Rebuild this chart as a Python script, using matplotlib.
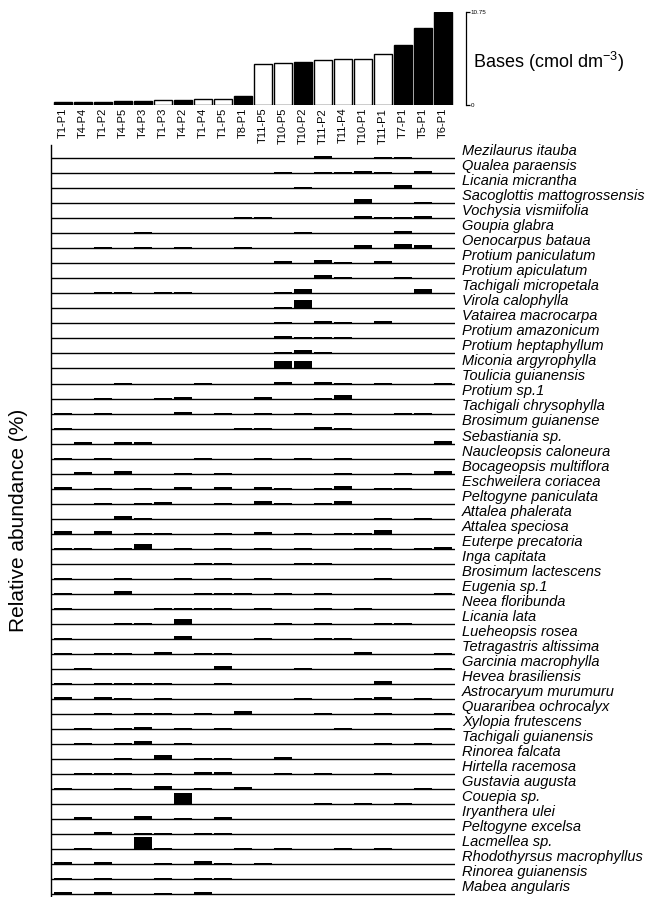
import matplotlib.pyplot as plt
import numpy as np

plt.rcParams['font.family'] = ['Liberation Sans', 'DejaVu Sans']
plt.rcParams['mathtext.fontset'] = 'custom'
plt.rcParams['mathtext.rm'] = 'Liberation Sans'

# plots ordered by total bases
plots = ['T1-P1', 'T4-P4', 'T1-P2', 'T4-P5', 'T4-P3', 'T1-P3', 'T4-P2', 'T1-P4',
         'T1-P5', 'T8-P1', 'T11-P5', 'T10-P5', 'T10-P2', 'T11-P2', 'T11-P4',
         'T10-P1', 'T11-P1', 'T7-P1', 'T5-P1', 'T6-P1']
bases = [0.3, 0.4, 0.4, 0.45, 0.5, 0.55, 0.6, 0.65, 0.75, 1.05, 4.7, 4.8, 5.0,
         5.2, 5.35, 5.35, 5.85, 6.9, 8.9, 10.75]
black_bar = [1, 1, 1, 1, 1, 0, 1, 0, 0, 1, 0, 0, 1, 0, 0, 0, 0, 1, 1, 1]

species = [
    'Mezilaurus itauba', 'Qualea paraensis', 'Licania micrantha',
    'Sacoglottis mattogrossensis', 'Vochysia vismiifolia', 'Goupia glabra',
    'Oenocarpus bataua', 'Protium paniculatum', 'Protium apiculatum',
    'Tachigali micropetala', 'Virola calophylla', 'Vatairea macrocarpa',
    'Protium amazonicum', 'Protium heptaphyllum', 'Miconia argyrophylla',
    'Toulicia guianensis', 'Protium sp.1', 'Tachigali chrysophylla',
    'Brosimum guianense', 'Sebastiania sp.', 'Naucleopsis caloneura',
    'Bocageopsis multiflora', 'Eschweilera coriacea', 'Peltogyne paniculata',
    'Attalea phalerata', 'Attalea speciosa', 'Euterpe precatoria',
    'Inga capitata', 'Brosimum lactescens', 'Eugenia sp.1', 'Neea floribunda',
    'Licania lata', 'Lueheopsis rosea', 'Tetragastris altissima',
    'Garcinia macrophylla', 'Hevea brasiliensis', 'Astrocaryum murumuru',
    'Quararibea ochrocalyx', 'Xylopia frutescens', 'Tachigali guianensis',
    'Rinorea falcata', 'Hirtella racemosa', 'Gustavia augusta', 'Couepia sp.',
    'Iryanthera ulei', 'Peltogyne excelsa', 'Lacmellea sp.',
    'Rhodothyrsus macrophyllus', 'Rinorea guianensis', 'Mabea angularis']

# relative abundance (%) per species (rows) and plot (columns)
abundance = [
    [0, 0, 0, 0, 0, 0, 0, 0, 0, 0, 0, 0, 0, 2, 0, 0, 1.5, 1.5, 0.5, 0],
    [0, 0, 0, 0, 0, 0, 0, 0, 0, 0.5, 0, 1.5, 0.5, 1.5, 1, 2, 1, 0.5, 2.5, 0],
    [0, 0, 0, 0, 0, 0, 0, 0, 0, 0, 0, 0, 1.5, 0.5, 0, 0, 0, 3, 0.5, 0],
    [0, 0, 0, 0, 0, 0, 0, 0, 0, 0.5, 0, 0.5, 0, 0, 0, 4, 0, 0.5, 1.5, 0],
    [0, 0, 0, 0, 0, 0, 0, 0, 0, 1.5, 1, 0, 0.5, 0.5, 0, 2, 1, 1, 2, 0],
    [0, 0.5, 0, 0, 1, 0, 0, 0, 0, 0.5, 0.5, 0, 1, 0, 0.5, 0, 0.5, 2, 0, 0],
    [0, 0.5, 1, 0, 1, 0, 1.5, 0, 0, 1.5, 0, 0, 0, 0.5, 0, 3, 0, 4.5, 3, 0],
    [0, 0, 0, 0, 0, 0, 0, 0, 0, 0.5, 0, 2, 0.5, 3, 1.5, 0.5, 2, 0.5, 0, 0],
    [0.5, 0.5, 0, 0, 0, 0.5, 0.5, 0, 0, 0, 0.5, 0.5, 0, 3, 1.5, 0, 0, 1, 0.5, 0],
    [0, 0, 1.5, 1, 0, 1.5, 1, 0.5, 0.5, 0, 0.5, 1.5, 4, 0.5, 0.5, 0.5, 0.5, 0.5, 4, 0],
    [0, 0, 0, 0, 0, 0, 0, 0.5, 0.5, 0, 0, 1, 8, 0.5, 0, 0, 0, 0.5, 0, 0],
    [0, 0, 0, 0, 0, 0.5, 0, 0, 0, 0, 0, 1, 0, 2, 1, 0, 2, 0, 0, 0],
    [0.5, 0, 0.5, 0, 0, 0, 0, 0.5, 0, 0, 0.5, 2, 1, 1.5, 1.5, 0.5, 0.5, 0, 0.5, 0],
    [0, 0, 0, 0, 0, 0, 0, 0, 0, 0, 0, 1, 3.5, 1, 0, 0, 0, 0, 0, 0],
    [0, 0, 0, 0, 0, 0, 0, 0.5, 0, 0, 0, 7.5, 7.5, 0.5, 0, 0, 0, 0, 0, 0],
    [0, 0, 0, 0.5, 0, 0, 0, 0.5, 0, 0, 0, 1.5, 0, 1.5, 0.5, 0, 0.5, 0, 0, 1],
    [0, 0, 0.5, 0, 0, 0.5, 1.5, 0, 0, 0, 2, 0, 0, 1, 3.5, 0, 0, 0, 0, 0],
    [0.5, 0, 0.5, 0, 0, 0, 2, 0, 0.5, 0, 0.5, 0, 1, 0, 0.5, 0, 0, 0.5, 1, 0],
    [0.5, 0, 0, 0, 0, 0, 0, 0, 0, 0.5, 0.5, 0, 0, 2, 1, 0, 0, 0, 0, 0],
    [0, 1.5, 0, 1.5, 1.5, 0, 0, 0, 0, 0, 0, 0, 0, 0, 0, 0, 0, 0, 0, 2.5],
    [0.5, 0, 0.5, 0, 0, 0, 0, 1, 0, 0, 1, 0, 1, 0, 1, 0, 0, 0, 0, 0],
    [0, 2, 0, 3, 0, 0, 0.5, 0, 1, 0, 0, 0, 0, 0, 0.5, 0, 0, 0.5, 0, 2.5],
    [1.5, 0, 0.5, 0, 0.5, 0, 2, 0, 2, 0, 2, 1, 0, 1, 2.5, 0, 0.5, 0.5, 0, 0],
    [0, 0, 1, 0, 0.5, 2, 0, 0, 0.5, 0, 3, 0.5, 0, 0.5, 3, 0, 0, 0, 0, 0],
    [0, 0, 0, 3, 0.5, 0, 0, 0, 0, 0, 0, 0, 0, 0, 0, 0, 1, 0, 1, 0],
    [3, 0, 3, 0, 1, 0.5, 0, 0, 1, 0, 2, 0, 0.5, 0, 1, 1, 4, 0, 0, 0],
    [1, 0.5, 0, 1, 4.5, 0, 1, 0, 1, 0, 1, 0, 0.5, 0, 0, 1, 0.5, 0, 0.5, 2],
    [0, 0, 0, 0, 0, 0, 0, 0.5, 0.5, 0, 0, 0, 1, 0.5, 0, 0, 0, 0, 0, 0],
    [0.5, 0, 0, 1, 0, 0, 1, 0, 1, 0, 1, 0, 0, 0, 0, 0, 0.5, 0, 0, 0],
    [0.5, 0, 0, 3, 0, 0, 0, 0.5, 0.5, 0.5, 0, 0.5, 0, 0.5, 0, 0, 0, 0, 0, 1],
    [0.5, 0, 0, 0, 0, 0.5, 1, 0.5, 1, 0, 1, 0, 0, 1, 0, 0.5, 0, 0, 0, 0],
    [0, 0, 0, 0.5, 0.5, 0, 5, 0, 0, 0, 0, 0.5, 0, 0.5, 0, 0, 0.5, 0.5, 0, 0],
    [0.5, 0, 0, 0, 0, 0, 3, 0, 0, 0, 0.5, 0, 0, 0.5, 0.5, 0, 0, 0, 0, 0],
    [0.5, 0, 1, 0.5, 0, 1.5, 0, 0.5, 1, 0, 0, 0, 0, 0, 0, 2, 0, 0, 0, 0.5],
    [0, 0.5, 0, 0, 0, 0, 0, 0, 3, 0, 0, 0, 0.5, 0, 0, 0, 0, 0, 0, 0.5],
    [0.5, 0, 1, 1, 0.5, 0.5, 0, 0, 0.5, 0, 0, 0, 0, 0, 0, 0, 2.5, 0, 0, 0],
    [2, 0, 2, 0.5, 0, 0.5, 0, 0, 0, 0, 0, 0, 0.5, 0, 0, 0.5, 2, 0, 0.5, 0],
    [0, 0, 0.5, 0, 0.5, 0.5, 0, 0.5, 0, 3, 0, 0, 0, 0.5, 0, 0, 0.5, 0, 0, 0.5],
    [0, 1, 0, 0.5, 1.5, 0, 1, 0, 0.5, 0, 0, 0, 0, 0, 0.5, 0, 0, 0, 0, 0.5],
    [0, 0.5, 0, 0.5, 3, 0, 1, 0, 0, 0, 0, 0, 0, 0, 0, 0, 0.5, 0, 0.5, 0],
    [0, 0, 0, 0.5, 0, 4, 0, 1, 1, 0, 0, 1.5, 0, 0, 0, 0, 0, 0, 0, 0],
    [0, 0.5, 0.5, 0.5, 0, 0.5, 0, 2, 1.5, 0, 0, 0.5, 0, 0.5, 0, 0, 0.5, 0, 0, 0],
    [0.5, 0, 0, 1, 0, 3, 0, 1, 0, 2, 0, 0, 0, 0, 0, 0, 0, 0, 0.5, 0],
    [0, 0, 0, 0, 0, 0, 10.5, 0, 0, 0, 0, 0, 0, 0.5, 0, 0.5, 0, 0.5, 0, 0],
    [0, 2, 0, 0, 3, 0, 1, 0, 2, 0, 0, 0, 0, 0, 0, 0, 0, 0, 0, 0],
    [0, 0, 2, 0, 0.5, 1, 0, 0.5, 1, 0, 0, 0, 0, 0, 0, 0, 0, 0, 0, 0],
    [0, 1, 0, 0, 11.5, 0.5, 0, 0, 0, 0.5, 0, 0.5, 0, 0, 0.5, 0, 0.5, 0, 0, 0],
    [2, 0, 2, 0, 0, 1, 0, 2.5, 1, 0, 0.5, 0, 0, 0, 0, 0, 0, 0, 0, 0],
    [0.5, 0, 0.5, 0, 0, 1, 0, 1, 0.5, 0, 0, 0, 0, 0, 0, 0, 0, 0, 0, 0],
    [1.5, 0, 2, 0, 0, 0.5, 0, 2, 0, 0, 0, 0, 0, 0, 0, 0, 0, 0, 0, 0],
]

W, H = 657, 897
fig = plt.figure(figsize=(W / 100, H / 100), dpi=100)


def px_axes(left, top, right, bottom):
    return fig.add_axes([left / W, 1 - bottom / H, (right - left) / W, (bottom - top) / H])


x = np.arange(len(plots))

# --- top panel: bases ---
ax1 = px_axes(53, 12, 466, 105)
colors = ['black' if b else 'white' for b in black_bar]
ax1.bar(x, bases, width=0.88, color=colors, edgecolor='black', linewidth=1.0)
ax1.set_xlim(-0.5, 20.15)
ax1.set_ylim(0, 10.75)
for s in ['top', 'left', 'bottom']:
    ax1.spines[s].set_visible(False)
ax1.spines['right'].set_linewidth(0.9)
ax1.yaxis.tick_right()
ax1.set_yticks([0, 10.75])
ax1.set_yticklabels(['0', '10.75'], fontsize=4.5)
ax1.tick_params(axis='y', length=3, width=0.9, pad=0.5)
ax1.set_xticks(x)
ax1.set_xticklabels(plots, rotation=90, fontsize=8)
ax1.tick_params(axis='x', length=0, pad=2)
fig.text(473 / W, 1 - 62 / H, 'Bases (cmol dm$^{-3}$)', fontsize=13, va='center')

# --- bottom panel: relative abundance ---
ax2 = px_axes(51, 145, 455, 897)
n = len(species)
ax2.set_xlim(-0.6, 19.6)
ax2.set_ylim(0.8, n + 0.885)
for s in ['top', 'right', 'bottom']:
    ax2.spines[s].set_visible(False)
ax2.spines['left'].set_linewidth(1.0)
ax2.set_xticks([])
ax2.set_yticks([])

row_scale = 1 / 15.0
for k, name in enumerate(species):
    base = n - k
    ax2.hlines(base, -0.6, 19.6, color='black', linewidth=1.0)
    vals = np.array(abundance[k])
    m = vals > 0
    ax2.bar(x[m], vals[m] * row_scale, bottom=base, width=0.92,
            color='black', linewidth=0)
    ax2.text(19.95, base + 0.47, name, style='italic', fontsize=10.5,
             ha='left', va='center', clip_on=False)

fig.text(19 / W, 1 - 520 / H, 'Relative abundance (%)', rotation=90,
         fontsize=15, ha='center', va='center')

fig.savefig('out.png', dpi=100)
